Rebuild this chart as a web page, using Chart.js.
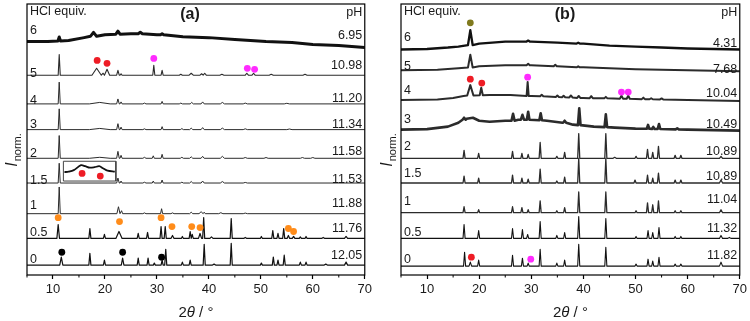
<!DOCTYPE html>
<html>
<head>
<meta charset="utf-8">
<script src="https://cdn.jsdelivr.net/npm/chart.js@4.4.1/dist/chart.umd.min.js"></script>
<style>
  html, body { margin: 0; padding: 0; background: #fff; }
  #wrap { position: relative; width: 750px; height: 321px; }
  canvas { position: absolute; top: 0; }
  #ca { left: 0; }
  #cb { left: 375px; }
</style>
</head>
<body>
<div id="wrap">
  <canvas id="ca" width="375" height="321"></canvas>
  <canvas id="cb" width="375" height="321"></canvas>
</div>
<script>
// axis
const xMin = 5, xMax = 70;
const majorTicks = [10, 20, 30, 40, 50, 60, 70];
const minorTicks = [5, 15, 25, 35, 45, 55, 65];

// labels of the stacked patterns (top to bottom)
const equiv = ["6", "5", "4", "3", "2", "1.5", "1", "0.5", "0"];
const pHA = ["6.95", "10.98", "11.20", "11.34", "11.58", "11.53", "11.88", "11.76", "12.05"];
const pHB = ["4.31", "7.68", "10.04", "10.49", "10.89", "10.89", "11.04", "11.32", "11.82"];

// vertical offset of each pattern
const offsetsA = [236, 202, 173, 147, 118, 93, 62, 37, 10];
const offsetsB = [228, 207, 177, 147, 118, 93, 63, 37, 9];

// peaks: [2theta, height, half width, base]
const a6 = [[11.2, 4, 0.25, 0.6], [17.8, 4, 0.6, 5.3], [22.5, 3, 0.4, 7.5], [26.8, 1.5, 0.4, 8], [31, 1, 0.3, 7]];
const a5 = [[11.2, 21, 0.2], [18.4, 7, 0.9], [20.4, 6, 0.5], [22.5, 5, 0.25], [23.1, 1.5, 0.2], [29.4, 10, 0.2],
  [31.0, 5, 0.2], [34.6, 1, 0.3], [36.6, 2, 0.4], [38.6, 1.5, 0.3], [39.2, 2, 0.3], [42.5, 1, 0.4],
  [47.3, 2, 0.3], [48.6, 2, 0.3], [52, 1, 0.4], [58.5, 1, 0.4]];
const a4 = [[11.2, 22, 0.2], [19, 1.5, 2], [22.5, 5, 0.25], [23.1, 2, 0.2], [27.6, 0.8, 0.3], [31.0, 2.5, 0.2],
  [34.6, 0.8, 0.3], [36.7, 1.5, 0.3], [38.8, 2, 0.3], [42.6, 1.5, 0.4], [47, 0.8, 0.4], [55, 0.6, 0.5]];
const a3 = [[11.2, 21, 0.2], [19, 1.2, 2], [22.5, 6, 0.25], [23.1, 2.5, 0.2], [27.6, 0.8, 0.3], [31.0, 3, 0.2],
  [34.8, 1, 0.3], [36.6, 1.5, 0.3], [38.8, 2, 0.3], [42.6, 1.5, 0.4], [47, 0.8, 0.4], [55.5, 0.6, 0.5]];
const a2 = [[11.2, 23, 0.2], [19, 1, 2], [22.5, 7, 0.25], [23.1, 3, 0.2], [27.6, 1, 0.3], [29.3, 2.5, 0.2],
  [31.0, 4, 0.2], [34.8, 1, 0.3], [36.6, 1.5, 0.3], [38.8, 2, 0.3], [42.6, 2, 0.4], [47, 0.8, 0.4],
  [51, 0.8, 0.4], [58, 0.8, 0.4], [60, 0.8, 0.4]];
const a15 = [[11.2, 20, 0.2], [22.5, 5, 0.25], [23.1, 2, 0.2], [27.6, 0.8, 0.3], [29.3, 2, 0.2], [31.0, 3, 0.2],
  [34.8, 0.8, 0.3], [36.6, 1.5, 0.3], [38.8, 2, 0.3], [42.6, 1.5, 0.4], [47, 0.6, 0.4]];
const a1 = [[11.2, 27, 0.2], [22.6, 7, 0.3], [23.2, 3, 0.2], [27.6, 0.8, 0.3], [30.9, 5, 0.2], [33, 0.8, 0.3],
  [36.6, 1.5, 0.3], [38.5, 2, 0.4], [39.1, 1.5, 0.2], [42.3, 1, 0.4], [47, 0.6, 0.4]];
const a05 = [[11.0, 14, 0.25], [17.1, 10, 0.2], [19.9, 4, 0.2], [22.7, 7, 0.6], [26.4, 5, 0.2], [28.2, 6, 0.2],
  [30.8, 12, 0.2], [31.6, 12, 0.2], [33.0, 3, 0.3], [34.9, 2, 0.2], [36.4, 7, 0.2], [36.8, 4, 0.2],
  [38.3, 5, 0.3], [39.0, 21, 0.2], [40.5, 1.5, 0.3], [44.3, 20, 0.2], [47, 1, 0.3], [50.1, 2, 0.2],
  [52.3, 8, 0.2], [53.3, 5, 0.2], [54.4, 10, 0.2], [55.3, 3, 0.25], [56.3, 2, 0.25], [57.6, 1.5, 0.2],
  [58.7, 2, 0.2], [62, 1, 0.3], [66.4, 2, 0.3]];
const a0 = [[11.6, 8, 0.3], [17.1, 12, 0.2], [19.9, 5, 0.2], [23.4, 7, 0.25], [26.4, 7, 0.2], [28.3, 7, 0.2],
  [29.5, 2, 0.2], [31.0, 5, 0.2], [31.7, 16, 0.2], [34.9, 3, 0.2], [36.4, 5, 0.2], [39.1, 21, 0.2],
  [41, 1, 0.3], [44.3, 22, 0.2], [50.1, 2, 0.2], [52.4, 8, 0.2], [53.3, 5, 0.2], [54.5, 10, 0.2],
  [57.6, 3, 0.2], [58.7, 3, 0.2], [62.5, 1, 0.3], [66.4, 3, 0.3]];

const b6 = [[18.3, 15, 0.45, 4.5], [29.4, 1, 0.3, 8], [39, 0.8, 0.3, 6]];
const b5 = [[18.3, 13, 0.45, 2.8], [29.4, 1.5, 0.3, 5], [34.6, 1.5, 0.3, 4], [39, 1, 0.3, 3]];
const b4 = [[18.3, 10.6, 0.6, 4.4], [20.4, 7.5, 0.3, 4.8], [29.3, 14, 0.2, 4.1], [32, 1.5, 0.3, 3.7],
  [35, 1.5, 0.3, 3], [36.2, 1.5, 0.3, 2.8], [37.6, 2, 0.3, 2.5], [39.1, 2, 0.3, 2], [41.5, 2, 0.3, 1.8],
  [44.3, 1.5, 0.3, 1.6], [47.3, 3, 0.3, 1.3], [48.6, 3, 0.3, 1.2], [51.5, 1.5, 0.3, 0.8], [53, 1, 0.3, 0.7],
  [55, 1, 0.3, 0.5]];
const b3 = [[17.1, 2, 0.3, 10], [26.5, 7, 0.3, 9], [28.3, 5, 0.3, 10], [29.4, 8, 0.25, 10], [31.8, 7, 0.25, 9.5],
  [36.4, 2, 0.3, 7], [39.2, 17, 0.25, 4.5], [44.3, 13, 0.25, 2.5], [52.4, 4, 0.25, 0.8], [53.4, 2, 0.25, 0.7],
  [54.5, 5, 0.25, 0.6], [58, 1, 0.3, 0.2]];
const b2 = [[17.1, 8, 0.2], [19.9, 5, 0.2], [26.4, 7, 0.2], [28.2, 5, 0.2], [29.4, 4, 0.2], [31.7, 16, 0.2],
  [34.9, 2, 0.2], [36.4, 6, 0.2], [39.1, 25, 0.2], [44.3, 25, 0.2], [46, 1, 0.3], [50.1, 2, 0.2],
  [52.3, 9, 0.2], [53.3, 6, 0.2], [54.4, 12, 0.2], [57.6, 3, 0.2], [58.7, 3, 0.2], [66.4, 2, 0.3]];
const b15 = [[17.1, 7, 0.2], [19.9, 5, 0.2], [26.4, 8, 0.2], [28.2, 5, 0.2], [29.4, 4, 0.2], [31.7, 14, 0.2],
  [34.9, 2, 0.2], [36.4, 6, 0.2], [39.1, 25, 0.2], [44.3, 25, 0.2], [49.9, 3, 0.2], [52.3, 8, 0.2],
  [53.3, 5, 0.2], [54.4, 10, 0.2], [57.6, 3, 0.2], [58.7, 3, 0.2], [66.4, 3, 0.3]];
const b1 = [[17.1, 6, 0.2], [19.9, 3, 0.2], [26.4, 6, 0.2], [28.2, 5, 0.2], [29.4, 3, 0.2], [31.7, 12, 0.2],
  [34.9, 2, 0.2], [36.4, 5, 0.2], [39.1, 21, 0.2], [44.3, 21, 0.2], [50.1, 2, 0.2], [52.3, 10, 0.2],
  [53.3, 8, 0.2], [54.4, 12, 0.2], [57.6, 2, 0.2], [58.7, 2, 0.2], [66.4, 3, 0.3]];
const b05 = [[17.1, 14, 0.2], [19.9, 8, 0.2], [26.4, 10, 0.2], [28.3, 9, 0.2], [29.3, 4, 0.2], [31.7, 17, 0.2],
  [34.9, 3, 0.2], [36.4, 6, 0.2], [39.1, 22, 0.2], [44.3, 20, 0.2], [50.1, 2, 0.2], [52.4, 8, 0.2],
  [53.3, 6, 0.2], [54.5, 11, 0.2], [57.6, 2, 0.2], [58.7, 2, 0.2], [66.4, 3, 0.3], [68, 1, 0.3]];
const b0 = [[17.2, 14, 0.2], [18.3, 4, 0.25], [19.9, 6, 0.2], [26.4, 11, 0.2], [28.3, 8, 0.2], [29.4, 3, 0.2],
  [31.7, 17, 0.2], [34.9, 3, 0.2], [36.4, 6, 0.2], [39.1, 22, 0.2], [44.3, 19, 0.2], [50.1, 2, 0.2],
  [52.4, 7, 0.2], [53.3, 5, 0.2], [54.5, 9, 0.2], [57.6, 2, 0.2], [58.7, 2, 0.2], [66.4, 4, 0.3]];

// background shapes (amorphous humps): [2theta, level]
const a6Base = [[5, 0], [9, 0], [13, 1], [16, 4], [20, 7], [25, 8], [30, 7], [35, 5], [40, 4], [45, 2], [51, 0],
  [56, -1], [60, -3], [65, -4], [70, -6]];
const a5Base = [[5, 0], [19.65, 2], [70, 0]];
const b6Base = [[5, 0], [10, 0.5], [14, 2], [16, 3], [20, 6], [25, 8], [30, 8], [35, 7], [40, 6], [45, 4],
  [50, 3], [55, 2], [60, 1], [65, 0.5], [70, 0]];
const b5Base = [[5, 0], [12, 0.5], [16, 2], [20, 4], [25, 5], [30, 5], [35, 4], [40, 3], [50, 1], [60, 0], [70, -1]];
const b4Base = [[5, 0], [12, 0.5], [15, 2], [17, 4], [22, 5], [26, 5], [30, 4], [35, 3], [40, 2], [50, 1],
  [60, 0], [70, -1]];
const b3Base = [[5, 0], [10, 0.5], [14, 3], [16, 7], [17.6, 11], [18.8, 12], [20, 9], [22, 8], [25, 9], [27.5, 10],
  [33, 9], [36, 7], [38, 5], [42, 3], [46, 2], [50, 1], [60, 0], [70, -1]];

const peaksA = [a6, a5, a4, a3, a2, a15, a1, a05, a0];
const peaksB = [b6, b5, b4, b3, b2, b15, b1, b05, b0];
const basesA = [a6Base, a5Base, null, null, null, null, null, null, null];
const basesB = [b6Base, b5Base, b4Base, b3Base, null, null, null, null, null];

// inset of panel (a): frame [x1, y1, x2, y2] and zoomed pattern
const insetBoxA = [12, 95, 22.1, 115];
const insetTraceA = [[12.2, 104], [13, 104.5], [14, 106], [15.4, 111], [16.2, 110], [17.1, 108.5],
  [18.0, 109], [18.9, 110], [19.6, 108], [20.5, 105.5], [21.9, 104.5]];

// phase markers
const blackDotsA = [[11.7, 23], [23.4, 23], [30.9, 18]];
const orangeDotsA = [[11.0, 58], [22.8, 54], [30.8, 58], [32.9, 49], [36.7, 49], [38.3, 48], [55.3, 47], [56.3, 44]];
const redDotsA = [[18.5, 217], [20.4, 214], [15.6, 102.7], [19.1, 100]];
const magentaDotsA = [[29.4, 219], [47.4, 209], [48.8, 208]];
const oliveDotsB = [[18.3, 255]];
const redDotsB = [[18.3, 198], [20.5, 194], [18.5, 18]];
const magentaDotsB = [[29.3, 200], [47.3, 185], [48.6, 185], [29.9, 16]];

// label heights (y units)
const leftYA = [247, 204, 176, 152, 123, 95, 70, 43, 16];
const rightYA = [242, 212, 178, 152, 125, 97, 72, 47, 20];
const leftYB = [240, 211, 186, 157, 130, 103, 74, 43, 16];
const rightYB = [234, 208, 183, 152, 125, 100, 76, 47, 20];

const widthsA = [3, 1.1, 1, 1, 1, 1, 1, 1.2, 1.2];
const widthsB = [2.3, 2, 2, 2.6, 1.3, 1.3, 1.3, 1.1, 1.1];

const FONT = '"Liberation Sans", Arial, sans-serif';

function buildTrace(offset, peaks, base) {
  base = base || [[xMin, 0], [xMax, 0]];
  const pts = [];
  peaks.forEach(function (p) {
    const w = p[2] || 0.25, b = p[3] || 0;
    pts.push({ x: p[0] - w, y: offset + b }, { x: p[0], y: offset + b + p[1] }, { x: p[0] + w, y: offset + b });
  });
  base.forEach(function (q) {
    const inside = peaks.some(function (p) { return Math.abs(q[0] - p[0]) <= (p[2] || 0.25); });
    if (!inside) pts.push({ x: q[0], y: offset + q[1] });
  });
  return pts.sort(function (m, n) { return m.x - n.x; });
}

function dots(list, color) {
  return {
    type: "scatter",
    data: list.map(function (d) { return { x: d[0], y: d[1] }; }),
    pointRadius: 3.4,
    pointBackgroundColor: color,
    pointBorderWidth: 0,
    order: 0,
  };
}

const decor = {
  id: "decor",
  afterDatasetsDraw(chart, args, o) {
    const c = chart.ctx, a = chart.chartArea, xs = chart.scales.x, ys = chart.scales.y;
    c.save();
    c.strokeStyle = "#000";
    c.lineWidth = 1.2;
    c.strokeRect(a.left, a.top, a.right - a.left, a.bottom - a.top);
    c.lineWidth = 1;
    minorTicks.forEach(function (v) {
      const p = xs.getPixelForValue(v);
      c.beginPath(); c.moveTo(p, a.bottom); c.lineTo(p, a.bottom + 2.5); c.stroke();
    });

    c.fillStyle = "#1a1a1a";
    c.font = "12.5px " + FONT;
    c.textBaseline = "middle";
    c.textAlign = "left";
    c.fillText("HCl equiv.", a.left + 3, 12);
    o.left.forEach(function (t, i) { c.fillText(t, a.left + 3, ys.getPixelForValue(o.leftY[i])); });
    c.textAlign = "right";
    c.fillText("pH", a.right - 2.5, 12.5);
    o.right.forEach(function (t, i) { c.fillText(t, a.right - 2.5, ys.getPixelForValue(o.rightY[i])); });

    c.font = "bold 16px " + FONT;
    c.textAlign = "center";
    c.fillText(o.title, 190, 15);

    // x title: 2θ / °
    const parts = [["2", ""], ["\u03B8", "italic "], [" / \u00B0", ""]];
    let total = 0;
    parts.forEach(function (p) { c.font = p[1] + "15px " + FONT; total += c.measureText(p[0]).width; });
    let x = (a.left + a.right) / 2 - total / 2;
    c.textAlign = "left";
    parts.forEach(function (p) {
      c.font = p[1] + "15px " + FONT;
      c.fillText(p[0], x, 313);
      x += c.measureText(p[0]).width;
    });

    // y title: I norm.
    c.translate(17, 150);
    c.rotate(-Math.PI / 2);
    c.textBaseline = "alphabetic";
    c.font = "italic 16px " + FONT;
    const wI = c.measureText("I").width;
    c.font = "11px " + FONT;
    const wN = c.measureText("norm.").width;
    const x0 = -(wI + wN + 1) / 2;
    c.font = "italic 16px " + FONT;
    c.fillText("I", x0, 0);
    c.font = "11px " + FONT;
    c.fillText("norm.", x0 + wI + 1, 4);
    c.restore();
  },
};

function makePanel(id, padLeft, offsets, peaks, bases, widths, extra, text) {
  const datasets = [];
  offsets.forEach(function (off, i) {
    datasets.push({
      type: "line",
      data: buildTrace(off, peaks[i], bases[i]),
      borderColor: i === 0 || i >= 7 ? "#111" : "#2b2b2b",
      borderWidth: widths[i],
      borderJoinStyle: "round",
      borderCapStyle: "round",
      pointRadius: 0,
      tension: 0,
      order: 1,
    });
  });
  extra.forEach(function (d) { datasets.push(d); });

  return new Chart(document.getElementById(id), {
    type: "line",
    data: { datasets: datasets },
    options: {
      responsive: false,
      animation: false,
      events: [],
      layout: { padding: { left: padLeft, right: 8, top: 1, bottom: 0 } },
      plugins: { legend: { display: false }, tooltip: { enabled: false }, decor: text },
      scales: {
        x: {
          type: "linear",
          min: xMin,
          max: xMax,
          afterBuildTicks: function (s) { s.ticks = majorTicks.map(function (v) { return { value: v }; }); },
          afterFit: function (s) { s.height = 46; },
          grid: { drawOnChartArea: false, tickLength: 4, tickWidth: 1.2, tickColor: "#000" },
          border: { display: false },
          ticks: { autoSkip: false, maxRotation: 0, padding: 3, color: "#1a1a1a", font: { family: FONT, size: 13 } },
        },
        y: { type: "linear", min: 0, max: 274, display: false },
      },
    },
    plugins: [decor],
  });
}

const insetA = [
  {
    type: "line",
    data: [
      { x: insetBoxA[0], y: insetBoxA[3] }, { x: insetBoxA[2], y: insetBoxA[3] },
      { x: insetBoxA[2], y: insetBoxA[1] }, { x: insetBoxA[0], y: insetBoxA[1] },
      { x: insetBoxA[0], y: insetBoxA[3] },
    ],
    borderColor: "#444", borderWidth: 1, pointRadius: 0, tension: 0, order: 1,
  },
  {
    type: "line",
    data: insetTraceA.map(function (d) { return { x: d[0], y: d[1] }; }),
    borderColor: "#111", borderWidth: 1.8, pointRadius: 0, tension: 0.3, order: 1,
  },
];

makePanel("ca", 27, offsetsA, peaksA, basesA, widthsA,
  [dots(blackDotsA, "#000"), dots(orangeDotsA, "#ff8c1a"), dots(redDotsA, "#ee1c25"), dots(magentaDotsA, "#ff2bff")].concat(insetA),
  { title: "(a)", left: equiv, leftY: leftYA, right: pHA, rightY: rightYA });

makePanel("cb", 26, offsetsB, peaksB, basesB, widthsB,
  [dots(oliveDotsB, "#807a1e"), dots(redDotsB, "#ee1c25"), dots(magentaDotsB, "#ff2bff")],
  { title: "(b)", left: equiv, leftY: leftYB, right: pHB, rightY: rightYB });
</script>
